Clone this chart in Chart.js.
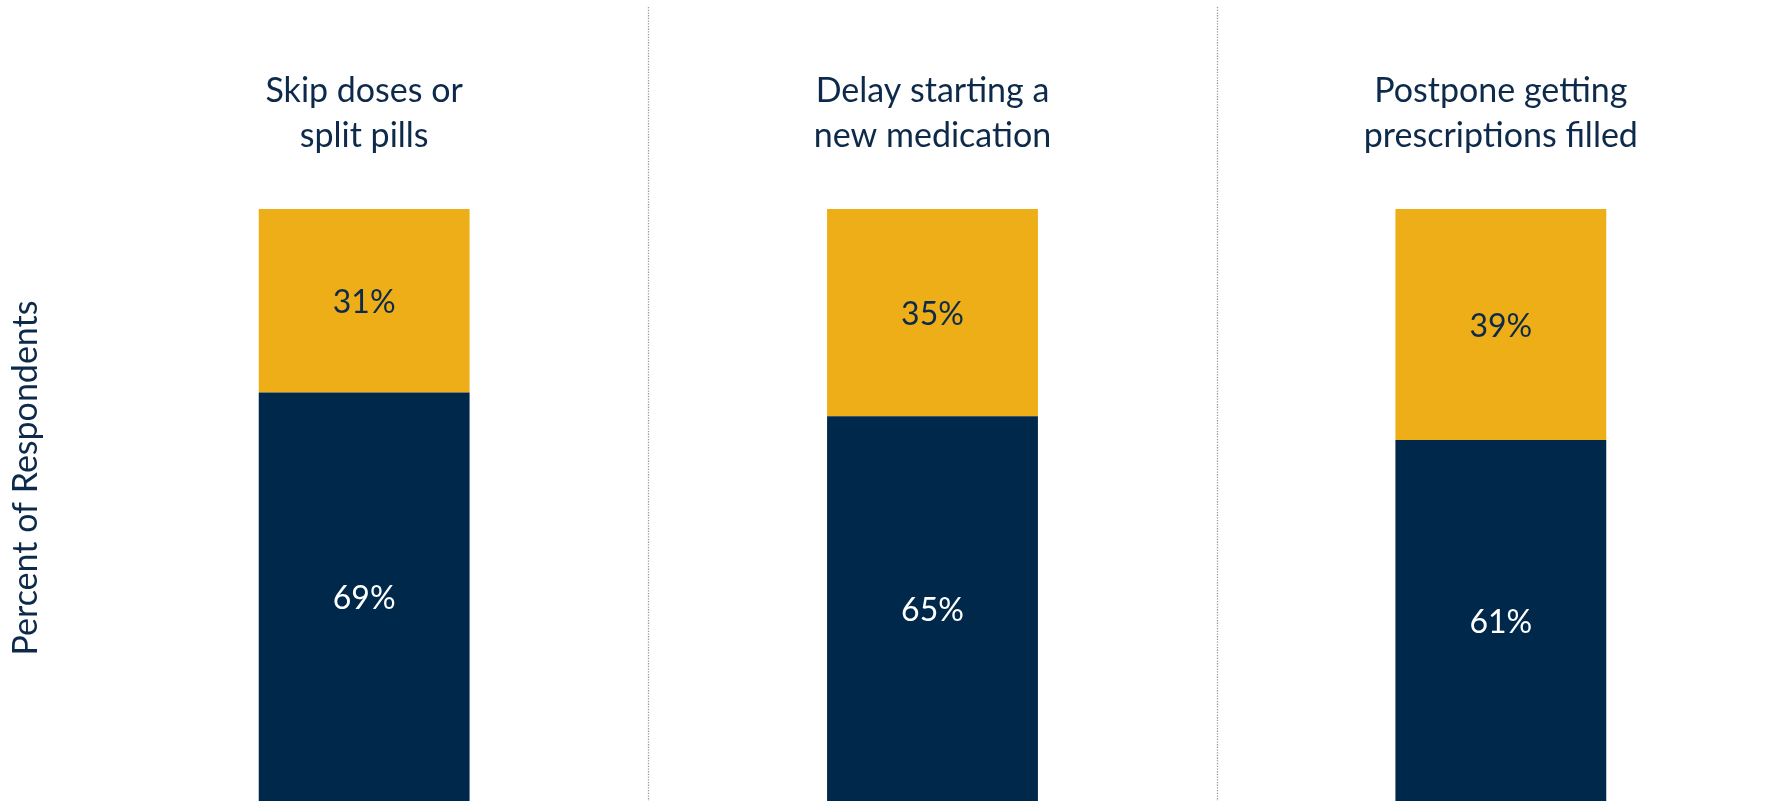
<!DOCTYPE html>
<html>
<head>
<meta charset="utf-8">
<title>Cost-related medication behaviours</title>
<script src="https://cdn.jsdelivr.net/npm/chart.js@4.4.1/dist/chart.umd.min.js"></script>
<style>
    html, body { margin: 0; padding: 0; background: #ffffff; }
    #wrap { width: 1790px; height: 801px; position: relative; }
</style>
</head>
<body>
<div id="wrap"><canvas id="chart"></canvas></div>
<script>
// Données du graphique
const categories = [
    ['Skip doses or', 'split pills'],
    ['Delay starting a', 'new medication'],
    ['Postpone getting', 'prescriptions filled']
];
const bottomValues = [69, 65, 61];
const topValues = [31, 35, 39];
const yAxisTitle = 'Percent of Respondents';

const NAVY = '#00284B';
const GOLD = '#EEAE17';
const TEXT = '#0E2A4B';
const FONT = 'Lato, "Open Sans", sans-serif';

// Lignes pointillées entre les catégories
const dividerPlugin = {
    id: 'dividers',
    beforeDatasetsDraw(chart) {
        const ctx = chart.ctx;
        const x = chart.scales.x;
        ctx.save();
        ctx.strokeStyle = '#9a9a9a';
        ctx.lineWidth = 1.3;
        ctx.setLineDash([1.3, 1.4]);
        for (let i = 0; i < categories.length - 1; i++) {
            const px = Math.round((x.getPixelForValue(i) + x.getPixelForValue(i + 1)) / 2) + 0.5;
            ctx.beginPath();
            ctx.moveTo(px, 7);
            ctx.lineTo(px, chart.chartArea.bottom);
            ctx.stroke();
        }
        ctx.restore();
    }
};

// Valeurs au centre de chaque segment
const valueLabelPlugin = {
    id: 'valueLabels',
    afterDatasetsDraw(chart) {
        const ctx = chart.ctx;
        ctx.save();
        ctx.font = '32px ' + FONT;
        ctx.textAlign = 'center';
        ctx.textBaseline = 'middle';
        chart.data.datasets.forEach((ds, di) => {
            const meta = chart.getDatasetMeta(di);
            meta.data.forEach((bar, i) => {
                ctx.fillStyle = ds.labelColor;
                ctx.fillText(ds.data[i] + '%', bar.x, (bar.y + bar.base) / 2 + 2);
            });
        });
        ctx.restore();
    }
};

// Titre vertical de l'axe Y
const yTitlePlugin = {
    id: 'yTitle',
    afterDraw(chart) {
        const ctx = chart.ctx;
        ctx.save();
        ctx.translate(26, 478);
        ctx.rotate(-Math.PI / 2);
        ctx.font = '34px ' + FONT;
        ctx.fillStyle = TEXT;
        ctx.textAlign = 'center';
        ctx.textBaseline = 'middle';
        ctx.fillText(yAxisTitle, 0, 0);
        ctx.restore();
    }
};

new Chart(document.getElementById('chart'), {
    type: 'bar',
    data: {
        labels: categories,
        datasets: [
            {
                label: 'Bottom',
                data: bottomValues,
                backgroundColor: NAVY,
                labelColor: '#ffffff',
                barPercentage: 0.371,
                categoryPercentage: 1.0
            },
            {
                label: 'Top',
                data: topValues,
                backgroundColor: GOLD,
                labelColor: TEXT,
                barPercentage: 0.371,
                categoryPercentage: 1.0
            }
        ]
    },
    options: {
        responsive: true,
        maintainAspectRatio: false,
        animation: false,
        layout: {
            padding: { left: 80, right: 5, top: 0, bottom: 0 }
        },
        plugins: {
            legend: { display: false },
            tooltip: { enabled: false }
        },
        scales: {
            x: {
                position: 'top',
                stacked: true,
                grid: { display: false, drawTicks: false },
                border: { display: false },
                ticks: {
                    color: TEXT,
                    font: { family: FONT, size: 34, lineHeight: 1.32 },
                    padding: 51,
                    maxRotation: 0,
                    autoSkip: false
                },
                afterFit(scale) {
                    scale.height = 209;
                }
            },
            y: {
                display: false,
                stacked: true,
                min: 0,
                max: 100
            }
        }
    },
    plugins: [dividerPlugin, valueLabelPlugin, yTitlePlugin]
});
</script>
</body>
</html>
